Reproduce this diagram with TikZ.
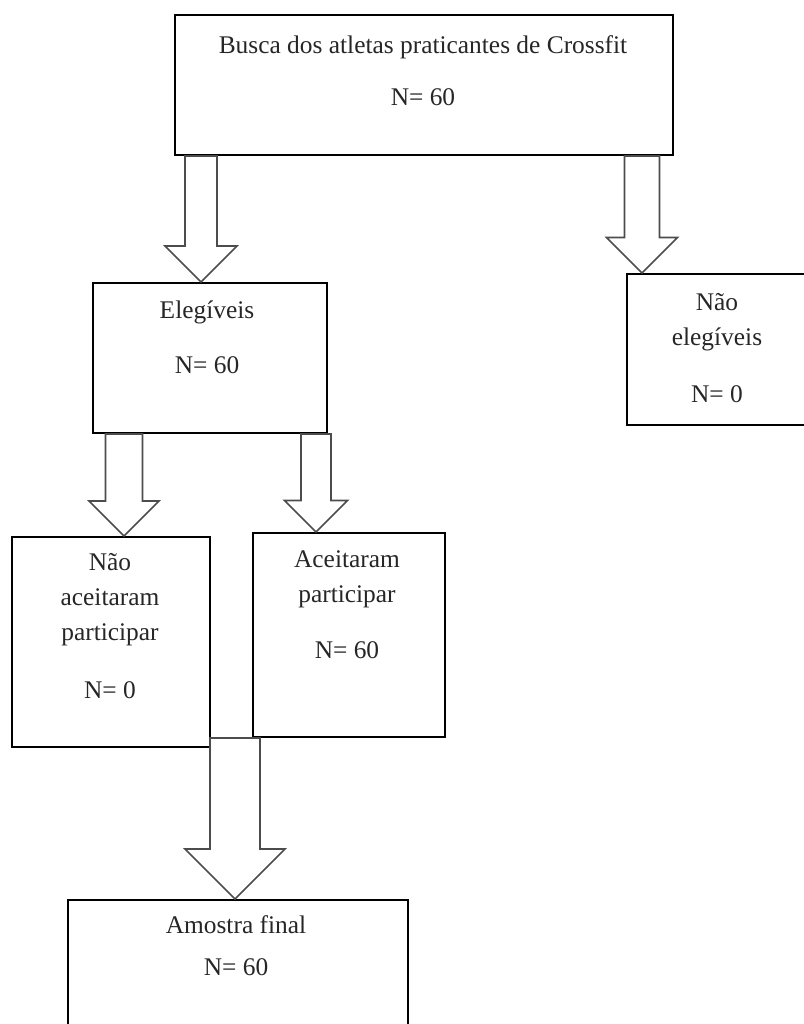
\documentclass[tikz,border=0pt]{standalone}
\usepackage{fontspec}
\setmainfont{Liberation Serif}
\usetikzlibrary{calc,fit}

% hollow block arrow: from, to, column, shaft half width, head half width
\newcommand{\blockarrow}[5]{%
  \draw[flowarrow] ($(#1 -| #3)+(-#4,0)$) -- ($(#2 -| #3)+(-#4,-#5)$)
    -- ($(#2 -| #3)+(-#5,-#5)$) -- (#2 -| #3) -- ($(#2 -| #3)+(#5,-#5)$)
    -- ($(#2 -| #3)+(#4,-#5)$) -- ($(#1 -| #3)+(#4,0)$) -- cycle;}

\begin{document}
\begin{tikzpicture}
        [x=0.5pt, y=-0.5pt,
        box/.style={draw, line width=1pt, inner sep=0pt},
        txt/.style={align=center, anchor=north, inner sep=0pt, text=black!85,
          font=\fontsize{12.7}{17.5}\selectfont},
        flowarrow/.style={draw=black!70, line width=0.8pt, line join=miter}]

        \useasboundingbox (0,0) rectangle (804,1024);
        \clip (0,0) rectangle (804,1024);

        % boxes
        \node[box, fit={(175,15) (673,155)}] (top) {};
        \node[box, fit={(627,274) (808,425)}] (nonelig) {};
        \node[box, fit={(93,283) (327,433)}] (elig) {};
        \node[box, fit={(12,537) (210,747)}] (nonacc) {};
        \node[box, fit={(253,533) (445,737)}] (acc) {};
        \node[box, fit={(68,900) (408,1040)}] (final) {};

        % texts in the boxes
        \node[txt] (toptxt) at (423,28.5) {\strut Busca dos atletas praticantes de Crossfit\\[8.5pt] N= 60};
        \node[txt] (noneligtxt) at (717,285.5) {\strut Não\\ elegíveis\\[11pt] N= 0};
        \node[txt] (eligtxt) at (207,293.5) {\strut Elegíveis\\[10pt] N= 60};
        \node[txt] (nonacctxt) at (110,545.5) {\strut Não\\ aceitaram\\ participar\\[11.5pt] N= 0};
        \node[txt] (acctxt) at (347,542.5) {\strut Aceitaram\\ participar\\[10.5pt] N= 60};
        \node[txt] (finaltxt) at (236,908.5) {\strut Amostra final\\[3.5pt] N= 60};

        % columns of the arrows
        \coordinate (c1) at (201,0);
        \coordinate (c2) at (642,0);
        \coordinate (c3) at (124,0);
        \coordinate (c4) at (316,0);
        \coordinate (c5) at (235,0);

        % block arrows
        \blockarrow{top.south}{elig.north}{c1}{16}{36}
        \blockarrow{top.south}{nonelig.north}{c2}{17.5}{35.5}
        \blockarrow{elig.south}{nonacc.north}{c3}{18.5}{35}
        \blockarrow{elig.south}{acc.north}{c4}{15}{31.5}
        \blockarrow{acc.south}{final.north}{c5}{25}{50}

    \end{tikzpicture}
\end{document}
